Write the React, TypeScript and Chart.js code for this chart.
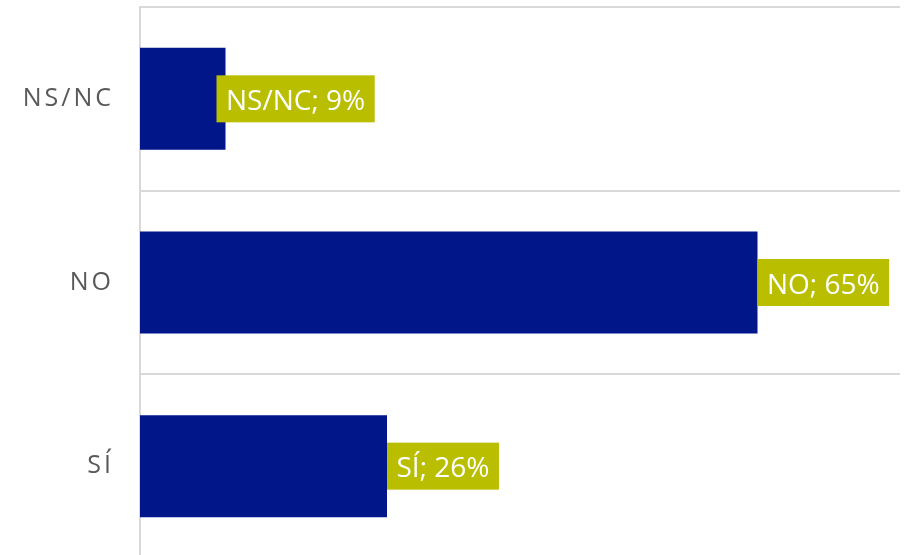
import React, { useEffect, useRef } from "react";
import { Chart, registerables } from "chart.js";

Chart.register(...registerables);

const categories: string[] = ["NS/NC", "NO", "SÍ"];
const values: number[] = [9, 65, 26];
const axisMax = 80;

const BAR_COLOR = "#001689";
const LABEL_BG = "#B9BE00";
const GRID_COLOR = "#D9D9D9";
const TICK_COLOR = "#595959";
const FONT = "'Open Sans', 'Noto Sans', sans-serif";

const labelPlugin = {
  id: "boxLabels",
  beforeDraw(chart: any) {
    chart.ctx.letterSpacing = "3px";
  },
  beforeDatasetsDraw(chart: any) {
    chart.ctx.letterSpacing = "0px";
  },
  afterDatasetsDraw(chart: any, _args: any, opts: any) {
    const ctx = chart.ctx;
    const meta = chart.getDatasetMeta(0);
    const fontSize = opts.fontSize;
    ctx.save();
    ctx.letterSpacing = "0px";
    ctx.font = `${fontSize}px ${FONT}`;
    meta.data.forEach((bar: any, i: number) => {
      const text = `${chart.data.labels[i]}; ${chart.data.datasets[0].data[i]}%`;
      const w = ctx.measureText(text).width;
      const boxW = w + opts.padX * 2;
      const boxH = opts.boxH;
      const x0 = bar.x + (opts.shift[i] || 0);
      const y0 = bar.y - boxH / 2;
      ctx.fillStyle = LABEL_BG;
      ctx.fillRect(x0, y0, boxW, boxH);
      ctx.fillStyle = "#FFFFFF";
      ctx.textAlign = "left";
      ctx.textBaseline = "alphabetic";
      ctx.fillText(text, x0 + opts.padX, bar.y + fontSize * 0.36 + 1);
    });
    ctx.restore();
  },
};

export default function App() {
  const ref = useRef<HTMLCanvasElement>(null);
  useEffect(() => {
    if (!ref.current) return;
    const chart = new Chart(ref.current, {
      type: "bar",
      data: {
        labels: categories,
        datasets: [
          {
            data: values,
            backgroundColor: BAR_COLOR,
            borderWidth: 0,
            categoryPercentage: 1,
            barPercentage: 0.555,
          },
        ],
      },
      options: {
        indexAxis: "y",
        responsive: false,
        animation: false,
        devicePixelRatio: 1,
        layout: { padding: { top: 7, right: 13, bottom: 0, left: 0 } },
        plugins: {
          legend: { display: false },
          tooltip: { enabled: false },
          boxLabels: { fontSize: 28, padX: 9.5, boxH: 47, shift: [-9, 0, 0] },
        } as any,
        scales: {
          x: {
            display: false,
            min: 0,
            max: axisMax,
            grid: { display: false },
          },
          y: {
            afterFit(scale: any) {
              scale.width = 140;
              scale.paddingTop = 0;
              scale.paddingBottom = 0;
            },
            border: { display: true, color: GRID_COLOR, width: 2 },
            grid: {
              display: true,
              color: GRID_COLOR,
              lineWidth: 2,
              drawTicks: false,
              offset: true,
            },
            ticks: {
              color: TICK_COLOR,
              padding: 26,
              font: { family: FONT, size: 25 },
            },
          },
        },
      },
      plugins: [labelPlugin],
    });
    return () => chart.destroy();
  }, []);
  return (
    <div style={{ position: "fixed", left: 0, top: 0, width: 913, height: 558, background: "#fff" }}>
      <canvas ref={ref} width={913} height={558} style={{ display: "block" }} />
    </div>
  );
}
